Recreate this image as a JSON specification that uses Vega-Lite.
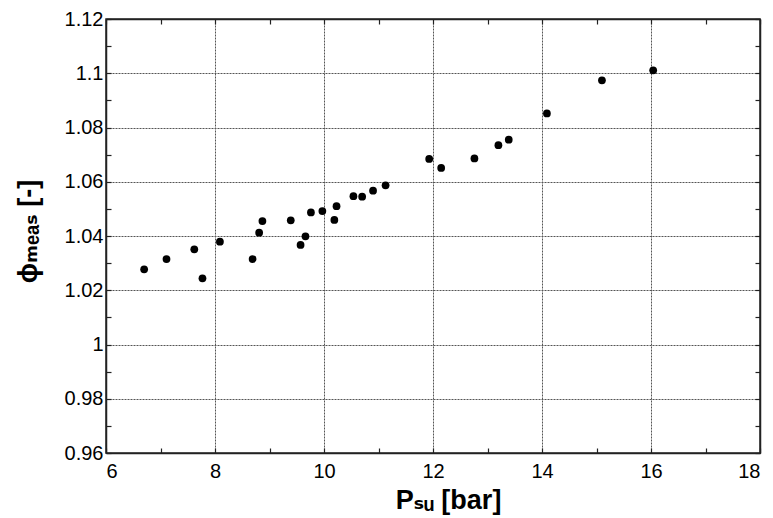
{
  "$schema": "https://vega.github.io/schema/vega-lite/v6.json",
  "width": 654,
  "height": 434,
  "autosize": {"type": "none"},
  "padding": {"left": 106, "top": 19, "right": 13, "bottom": 65},
  "background": "white",
  "config": {
    "view": {"stroke": "#222", "strokeWidth": 1.5},
    "axis": {
      "domainColor": "#222",
      "domainWidth": 1.5,
      "tickColor": "#222",
      "tickWidth": 1.2,
      "labelFont": "Liberation Sans",
      "labelFontSize": 20,
      "labelColor": "black",
      "titleFont": "Liberation Sans, DejaVu Sans",
      "titleFontWeight": "bold",
      "titleFontSize": 27,
      "titleColor": "black",
      "gridColor": "#555",
      "gridDash": [2, 1],
      "gridWidth": 1
    }
  },
  "data": {
    "values": [
      {"p": 6.70, "phi": 1.0277},
      {"p": 7.11, "phi": 1.0315},
      {"p": 7.62, "phi": 1.0351},
      {"p": 7.77, "phi": 1.0244},
      {"p": 8.09, "phi": 1.0379},
      {"p": 8.69, "phi": 1.0315},
      {"p": 8.81, "phi": 1.0412},
      {"p": 8.87, "phi": 1.0455},
      {"p": 9.39, "phi": 1.0458},
      {"p": 9.57, "phi": 1.0367},
      {"p": 9.66, "phi": 1.0399},
      {"p": 9.76, "phi": 1.0487},
      {"p": 9.97, "phi": 1.0492},
      {"p": 10.19, "phi": 1.0459},
      {"p": 10.23, "phi": 1.0510},
      {"p": 10.54, "phi": 1.0547},
      {"p": 10.70, "phi": 1.0545},
      {"p": 10.90, "phi": 1.0567},
      {"p": 11.13, "phi": 1.0587},
      {"p": 11.93, "phi": 1.0684},
      {"p": 12.15, "phi": 1.0651},
      {"p": 12.76, "phi": 1.0686},
      {"p": 13.20, "phi": 1.0735},
      {"p": 13.39, "phi": 1.0755},
      {"p": 14.09, "phi": 1.0852},
      {"p": 15.10, "phi": 1.0974},
      {"p": 16.04, "phi": 1.1011}
    ]
  },
  "layer": [
    {
      "mark": {"type": "circle", "color": "black", "opacity": 1, "size": 60},
      "encoding": {
        "x": {
          "field": "p",
          "type": "quantitative",
          "scale": {"domain": [6, 18], "nice": false, "zero": false},
          "axis": {
            "orient": "bottom",
            "title": "Pₛᵤ [bar]",
            "titlePadding": 6,
            "titleX": 342,
            "values": [6, 7, 8, 9, 10, 11, 12, 13, 14, 15, 16, 17, 18],
            "labelExpr": "datum.value % 2 == 0 ? datum.label : ''",
            "labelPadding": 13,
            "tickSize": -5,
            "grid": true,
            "gridOpacity": {"condition": {"test": "datum.value % 2 == 1", "value": 0}, "value": 1}
          }
        },
        "y": {
          "field": "phi",
          "type": "quantitative",
          "scale": {"domain": [0.96, 1.12], "nice": false, "zero": false},
          "axis": {
            "orient": "left",
            "title": "ϕₘₑₐₛ [-]",
            "titlePadding": 22,
            "titleY": 212,
            "values": [0.96, 0.97, 0.98, 0.99, 1, 1.01, 1.02, 1.03, 1.04, 1.05, 1.06, 1.07, 1.08, 1.09, 1.1, 1.11, 1.12],
            "labelExpr": "round(datum.value * 100) % 2 == 0 ? format(datum.value, '~g') : ''",
            "labelPadding": 8,
            "tickSize": -5,
            "grid": true,
            "gridOpacity": {"condition": {"test": "round(datum.value * 100) % 2 == 1", "value": 0}, "value": 1}
          }
        }
      }
    },
    {
      "mark": {"type": "circle", "opacity": 0},
      "encoding": {
        "x": {
          "field": "p",
          "type": "quantitative",
          "axis": {
            "orient": "top",
            "title": null,
            "labels": false,
            "grid": false,
            "tickSize": -5,
            "values": [6, 7, 8, 9, 10, 11, 12, 13, 14, 15, 16, 17, 18]
          }
        },
        "y": {
          "field": "phi",
          "type": "quantitative",
          "axis": {
            "orient": "right",
            "title": null,
            "labels": false,
            "grid": false,
            "tickSize": -5,
            "values": [0.96, 0.97, 0.98, 0.99, 1, 1.01, 1.02, 1.03, 1.04, 1.05, 1.06, 1.07, 1.08, 1.09, 1.1, 1.11, 1.12]
          }
        }
      }
    }
  ]
}
